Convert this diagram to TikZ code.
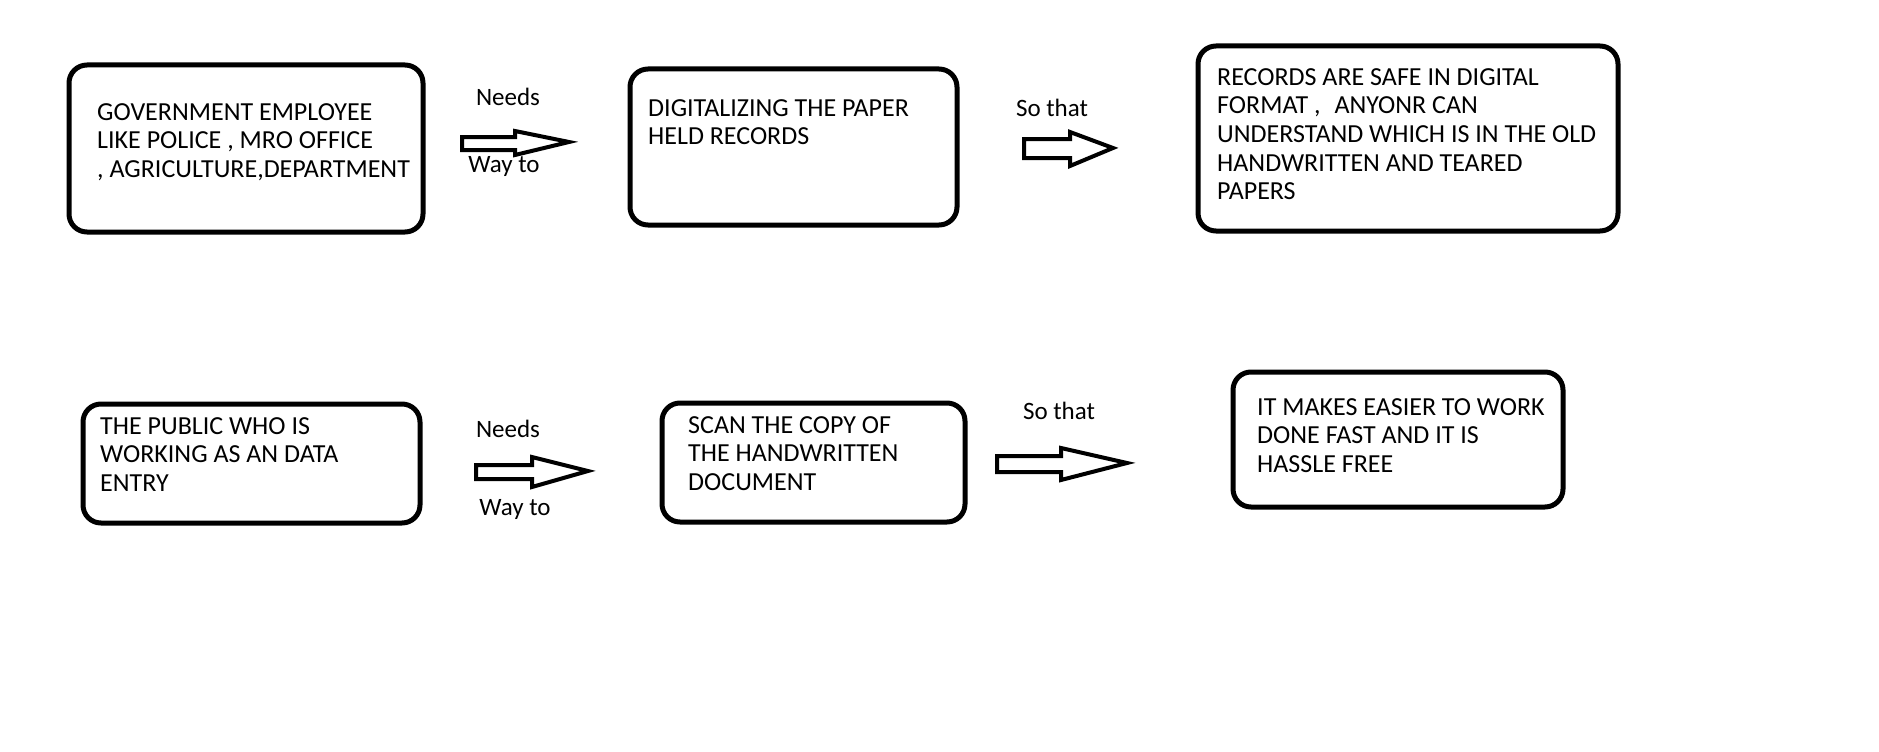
\documentclass[tikz,border=0pt]{standalone}
\usepackage{fontspec}
\setmainfont{Carlito}
\newcommand{\toplines}[1]{\begin{tabular}[t]{@{}l@{}}#1\end{tabular}}
\begin{document}
\begin{tikzpicture}[x=1pt,y=-1pt,
  box/.style={draw=black,line width=5pt,rounded corners=18pt,fill=white,inner sep=0pt},
  boxtext/.style={anchor=base west,inner sep=0pt,font=\fontsize{26}{28.7}\selectfont},
  lbl/.style={anchor=base,inner sep=0pt,font=\fontsize{25}{29}\selectfont},
  fat/.style={draw=black,line width=4pt,line join=miter,fill=white}]
\useasboundingbox[fill=white] (0,0) rectangle (1879,752);
% boxes
\node[box,minimum width=354pt,minimum height=167pt] (b1) at (246,148.5) {};
\node[box,minimum width=327pt,minimum height=156pt] (b2) at (793.5,147) {};
\node[box,minimum width=420pt,minimum height=185pt] (b3) at (1408,138.5) {};
\node[box,minimum width=337pt,minimum height=119pt] (b4) at (251.5,463.5) {};
\node[box,minimum width=303pt,minimum height=119pt] (b5) at (813.5,462.5) {};
\node[box,minimum width=330pt,minimum height=135pt] (b6) at (1398,439.5) {};
% texts
\node[boxtext] (t1) at (97,120) {\toplines{GOVERNMENT EMPLOYEE\\LIKE POLICE , MRO OFFICE\\, AGRICULTURE,DEPARTMENT}};
\node[boxtext] (t2) at (648,116) {\toplines{DIGITALIZING THE PAPER\\HELD RECORDS}};
\node[boxtext] (t3) at (1217,85) {\toplines{RECORDS ARE SAFE IN DIGITAL\\FORMAT ,\hspace{14pt}ANYONR CAN\\UNDERSTAND WHICH IS IN THE OLD\\HANDWRITTEN AND TEARED\\PAPERS}};
\node[boxtext] (t4) at (100,434) {\toplines{THE PUBLIC WHO IS\\WORKING AS AN DATA\\ENTRY}};
\node[boxtext] (t5) at (688,433) {\toplines{SCAN THE COPY OF\\THE HANDWRITTEN\\DOCUMENT}};
\node[boxtext] (t6) at (1257,415) {\toplines{IT MAKES EASIER TO WORK\\DONE FAST AND IT IS\\HASSLE FREE}};
% arrows
\draw[fat] (462,137) -- (515,137) -- (515,131) -- (569,142) -- (515,155) -- (515,150) -- (462,150) -- cycle;
\draw[fat] (1024,139) -- (1070,139) -- (1070,132) -- (1113,148) -- (1070,166) -- (1070,158) -- (1024,158) -- cycle;
\draw[fat] (476,465) -- (532,465) -- (532,457) -- (588,471) -- (532,487) -- (532,479) -- (476,479) -- cycle;
\draw[fat] (997,456) -- (1061,456) -- (1061,448) -- (1127,463) -- (1061,480) -- (1061,472) -- (997,472) -- cycle;
% labels
\node[lbl] (n1) at (508,105) {Needs};
\node[lbl] (w1) at (504,172) {Way to};
\node[lbl] (s1) at (1052,116) {So that};
\node[lbl] (n2) at (508,437) {Needs};
\node[lbl] (w2) at (515,515) {Way to};
\node[lbl] (s2) at (1059,419) {So that};
\end{tikzpicture}
\end{document}
